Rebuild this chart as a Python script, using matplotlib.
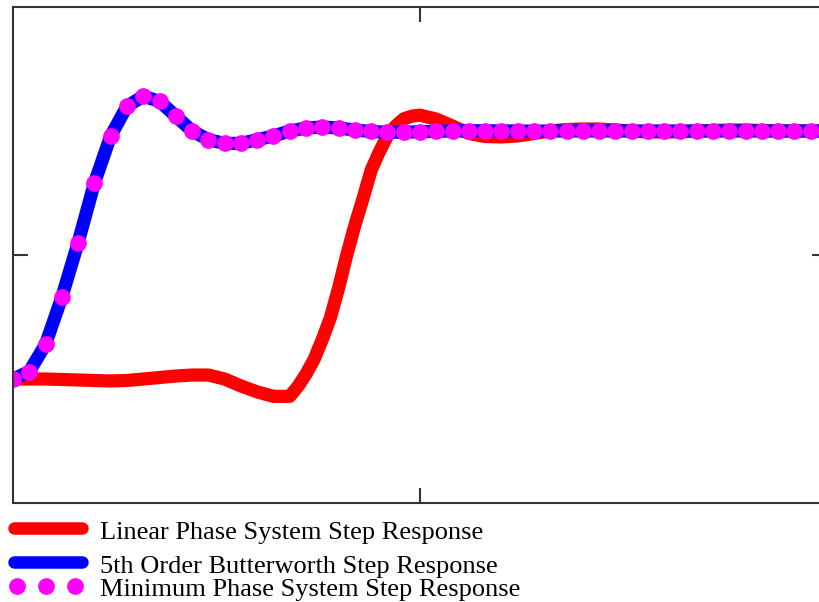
import matplotlib.pyplot as plt
from matplotlib.lines import Line2D

# sample index for the butterworth / min phase traces
n = list(range(51))

butter = [0, 0.03, 0.14, 0.33, 0.55, 0.79, 0.98, 1.10, 1.14, 1.12,
          1.06, 1.00, 0.965, 0.95, 0.95, 0.965, 0.98, 1.0, 1.012, 1.016,
          1.012, 1.004, 0.998, 0.995, 0.995, 0.997, 0.999, 1.0, 1.001, 1.001,
          1.0, 1.0, 0.999, 1.0, 1.0, 1.0, 1.0, 1.0, 1.0, 1.0,
          1.0, 1.0, 1.0, 1.0, 1.0, 1.0, 1.0, 1.0, 1.0, 1.0, 1.0]
minphase = butter

# linear phase trace, read a bit finer around the edge
n_lin = [0, 1, 2, 3, 4, 5, 6, 7, 8, 9, 10, 11, 12, 13, 14, 15, 16, 17,
         17.5, 18, 18.5, 19, 19.5, 20, 20.5, 21, 21.5, 22, 22.5, 23, 23.5,
         24, 24.5, 25, 26, 27, 28, 29, 30, 31, 32, 33, 34, 35, 36, 37, 38,
         39, 40, 41, 42, 43, 44, 45, 46, 47, 48, 49, 50]
linear = [0, 0, 0, -0.002, -0.004, -0.006, -0.008, -0.006, 0, 0.006, 0.012,
          0.016, 0.016, 0, -0.028, -0.052, -0.07, -0.07,
          -0.03, 0.02, 0.08, 0.16, 0.248, 0.367, 0.5, 0.62, 0.728, 0.842,
          0.916, 0.98, 1.02, 1.049, 1.06, 1.064, 1.048, 1.02, 0.99, 0.978,
          0.976, 0.98, 0.99, 1.0, 1.006, 1.008, 1.008, 1.004, 1.0, 0.996,
          0.996, 0.997, 1.0, 1.002, 1.004, 1.004, 1.002, 1.0, 1.0, 1.0, 1.0]

labels = ["Linear Phase System Step Response",
          "5th Order Butterworth Step Response",
          "Minimum Phase System Step Response"]

W, H = 820, 602
fig = plt.figure(figsize=(W / 100, H / 100), dpi=100)
ax = fig.add_axes([13 / W, 99 / H, 814 / W, 496 / H])

ax.plot(n_lin, linear, color="#ff0000", lw=9.5, solid_capstyle="butt",
        solid_joinstyle="round")
ax.plot(n, butter, color="#0000ff", lw=9.5, solid_capstyle="butt",
        solid_joinstyle="round")
ax.plot(n, minphase, ls="none", marker="o", ms=11, color="#ff00ff", mec="#ff00ff")

ax.set_xlim(0, 50)
ax.set_ylim(-0.5, 1.5)
ax.set_xticks([25])
ax.set_yticks([0.5])
ax.tick_params(direction="in", length=11, width=1.5, color="#333333",
               top=True, right=True, labelbottom=False, labelleft=False)
for s in ax.spines.values():
    s.set_color("#333333")
    s.set_linewidth(1.5)

# legend drawn by hand, the spacing in the original is uneven
def fx(px):
    return px / W

def fy(py):
    return (H - py) / H

fig.add_artist(Line2D([fx(14), fx(82)], [fy(528), fy(528)], color="#ff0000",
                      lw=9, solid_capstyle="round"))
fig.add_artist(Line2D([fx(14), fx(82)], [fy(562), fy(562)], color="#0000ff",
                      lw=9, solid_capstyle="round"))
fig.add_artist(Line2D([fx(17), fx(46), fx(75)], [fy(586)] * 3, ls="none",
                      marker="o", ms=11, color="#ff00ff"))

for lab, base in zip(labels, [539, 573, 596]):
    fig.text(fx(100), fy(base), lab, family="Liberation Serif", fontsize=19,
             va="baseline", ha="left")

fig.savefig("out.png", dpi=100)
